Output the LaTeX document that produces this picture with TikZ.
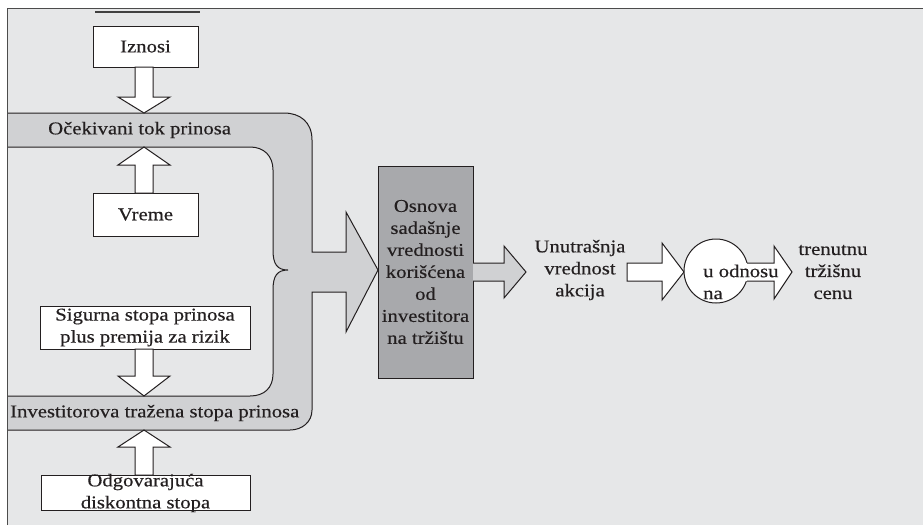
\documentclass[tikz,border=0pt]{standalone}
\usepackage{fontspec}
\setmainfont{Liberation Serif}[FakeStretch=1.15,FakeBold=0.4]
\definecolor{bg}{HTML}{E6E7E8}
\definecolor{band}{HTML}{D0D1D3}
\definecolor{corefill}{HTML}{A8A9AC}
\definecolor{ink}{HTML}{231F20}
\begin{document}
\begin{tikzpicture}[x=1pt,y=-1pt,line join=miter,
  txt/.style={font=\fontsize{18}{22}\selectfont,text=ink,inner sep=0pt,align=center},
  wbox/.style={draw=ink,fill=white,line width=1pt},
  warrow/.style={draw=ink,fill=white,line width=1pt},
  garrow/.style={draw=ink,fill=band,line width=1pt},
  edge/.style={draw=ink,line width=1pt}]
\useasboundingbox (0,0) rectangle (923,525);
\fill[white] (0,0) rectangle (923,525);
\fill[bg] (7,8) rectangle (923,525);
\draw[black!70,line width=1pt] (7,525) -- (7,8) -- (923,8);
\draw[black!75,line width=1.5pt] (95,12) -- (200,12);
% band
\fill[band] (8,113) -- (284,113) .. controls (300,113) and (312,122) .. (312,140)
  -- (312,252) -- (346,252) -- (346,212) -- (378,270) -- (346,332) -- (346,292) -- (312,292)
  -- (312,410) .. controls (312,422) and (302,430) .. (290,430) -- (8,430)
  -- (8,396) -- (250,396) .. controls (264,396) and (273,388) .. (273,374)
  -- (273,290) .. controls (273,276) and (277,270) .. (288,270)
  .. controls (277,270) and (273,264) .. (273,250)
  -- (273,170) .. controls (273,156) and (264,147) .. (250,147) -- (8,147) -- cycle;
\draw[edge] (8,113) -- (284,113) .. controls (300,113) and (312,122) .. (312,140)
  -- (312,252) -- (346,252) -- (346,212) -- (378,270) -- (346,332) -- (346,292) -- (312,292)
  -- (312,410) .. controls (312,422) and (302,430) .. (290,430) -- (8,430);
\draw[edge] (8,396) -- (250,396) .. controls (264,396) and (273,388) .. (273,374)
  -- (273,290) .. controls (273,276) and (277,270) .. (288,270)
  .. controls (277,270) and (273,264) .. (273,250)
  -- (273,170) .. controls (273,156) and (264,147) .. (250,147) -- (8,147);
\node[txt,anchor=west] (flow) at (48,130) {Očekivani tok prinosa};
\node[txt,anchor=west] (rate) at (10,413) {Investitorova tražena stopa prinosa};
% boxes
\draw[wbox] (93,26) rectangle (198,67);
\node[txt] (iznosi) at (145.5,46.5) {Iznosi};
\draw[wbox] (93,193) rectangle (198,236);
\node[txt] (vreme) at (145.5,214.5) {Vreme};
\draw[wbox] (40,306) rectangle (250,349);
\node[txt] (sigurna) at (145,327.5) {Sigurna stopa prinosa\\plus premija za rizik};
\draw[wbox] (41,475) rectangle (250,510);
\node[txt] (odg) at (145.5,493) {Odgovarajuća\\diskontna stopa};
% vertical block arrows
\draw[warrow] (135,67) -- (135,97) -- (118,97) -- (144,113) -- (170,97) -- (153,97) -- (153,67) -- cycle;
\draw[warrow] (135,193) -- (135,165) -- (118,165) -- (144,147) -- (170,165) -- (153,165) -- (153,193) -- cycle;
\draw[warrow] (135,349) -- (135,376) -- (118,376) -- (144,396) -- (170,376) -- (153,376) -- (153,349) -- cycle;
\draw[warrow] (135,475) -- (135,447) -- (118,447) -- (144,430) -- (170,447) -- (153,447) -- (153,475) -- cycle;
% core box
\draw[draw=ink,fill=corefill,line width=1pt] (378,166) rectangle (473,378);
\node[txt] (core) at (425.5,272) {Osnova\\sadašnje\\vrednosti\\korišćena\\od\\investitora\\na tržištu};
\draw[garrow] (473,263) -- (504,263) -- (504,246) -- (526,272) -- (504,298) -- (504,281) -- (473,281);
\node[txt] (intr) at (580,270) {Unutrašnja\\vrednost\\akcija};
% comparison
\draw[warrow] (627,263) -- (662,263) -- (662,243) -- (684,272) -- (662,300) -- (662,281) -- (627,281) -- cycle;
\draw[warrow] (716,271) circle[radius=32];
\fill[white] (740,263) -- (774,263) -- (774,246) -- (792,272) -- (774,299) -- (774,281) -- (740,281) -- cycle;
\draw[edge] (747,263) -- (774,263) -- (774,246) -- (792,272) -- (774,299) -- (774,281) -- (747,281);
\node[txt,align=left,anchor=west] (rel) at (703,282) {u odnosu\\na};
\node[txt] (price) at (833,272) {trenutnu\\tržišnu\\cenu};
\end{tikzpicture}
\end{document}
